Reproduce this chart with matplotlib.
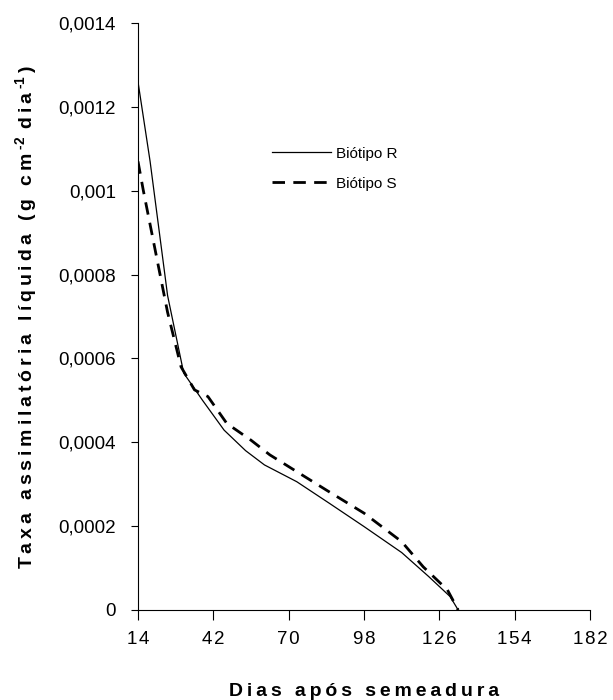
import numpy as np
import matplotlib
matplotlib.use('Agg')
import matplotlib.pyplot as plt

plt.rcParams['font.family'] = ['Liberation Sans', 'DejaVu Sans']
plt.rcParams['mathtext.fontset'] = 'custom'
plt.rcParams['mathtext.rm'] = 'Liberation Sans:bold'
plt.rcParams['mathtext.default'] = 'rm'

# taxa assimilatoria liquida, biotipo R
dias_r = [14, 18.5, 25, 31, 38, 46, 54, 61, 73, 85, 98, 112, 122, 130, 133]
taxa_r = [0.00126, 0.00107, 0.00075, 0.000565, 0.00050, 0.000429, 0.00038, 0.000346,
          0.000306, 0.000255, 0.000199, 0.000137, 0.00008, 0.000032, 0.0]

# biotipo S
dias_s = [14, 16, 25, 30, 35, 40, 47, 56, 63, 73, 84, 98, 112, 120, 129, 133]
taxa_s = [0.00107, 0.00100, 0.00071, 0.00058, 0.000525, 0.000509, 0.000445, 0.000405,
          0.00037, 0.00033, 0.000286, 0.000231, 0.000163, 0.000103, 0.000048, 0.0]

xticks = [14, 42, 70, 98, 126, 154, 182]
yticks = [0, 0.0002, 0.0004, 0.0006, 0.0008, 0.001, 0.0012, 0.0014]
ylabels = ['0', '0,0002', '0,0004', '0,0006', '0,0008', '0,001', '0,0012', '0,0014']


def espacar(txt, sep='\u2009'):
    # abre o espacamento entre letras
    return sep.join(txt)


fig = plt.figure(figsize=(6.13, 7.0), dpi=100)
ax = fig.add_axes([0.2251, 0.1286, 0.7374, 0.8385])

ax.plot(dias_r, taxa_r, color='black', lw=0.9, label='Biótipo R')
ax.plot(dias_s, taxa_s, color='black', lw=2.0, ls=(0, (4.5, 3)), label='Biótipo S')

ax.set_xlim(14, 182)
ax.set_ylim(0, 0.0014)
ax.set_xticks(xticks)
ax.set_xticklabels([espacar(str(t), '\u200a') for t in xticks], fontsize=13.5)
ax.set_yticks(yticks)
ax.set_yticklabels(ylabels, fontsize=13.5)

for s in ['top', 'right']:
    ax.spines[s].set_visible(False)
ax.spines['left'].set_linewidth(0.8)
ax.spines['bottom'].set_linewidth(0.8)
ax.tick_params(axis='y', direction='out', length=5, width=0.8, pad=11)
ax.tick_params(axis='x', direction='out', length=7, width=0.8, pad=8)

ax.set_xlabel(espacar('Dias após semeadura'), fontsize=14, fontweight='bold', labelpad=25)
ax.set_ylabel(espacar('Taxa assimilatória líquida (g cm') + '\u2009' + r'$^{\text{-}2}$' + '\u2009\u2009'
              + espacar('dia') + '\u2009' + r'$^{\text{-}1}$' + '\u2009)',
              fontsize=14, fontweight='bold', labelpad=14)

ax.legend(loc='center left', bbox_to_anchor=(0.296, 0.752), frameon=False, fontsize=11,
          handlelength=3.85, handletextpad=0.33, labelspacing=1.05, borderpad=0,
          borderaxespad=0)

fig.savefig('out.png', dpi=100)
